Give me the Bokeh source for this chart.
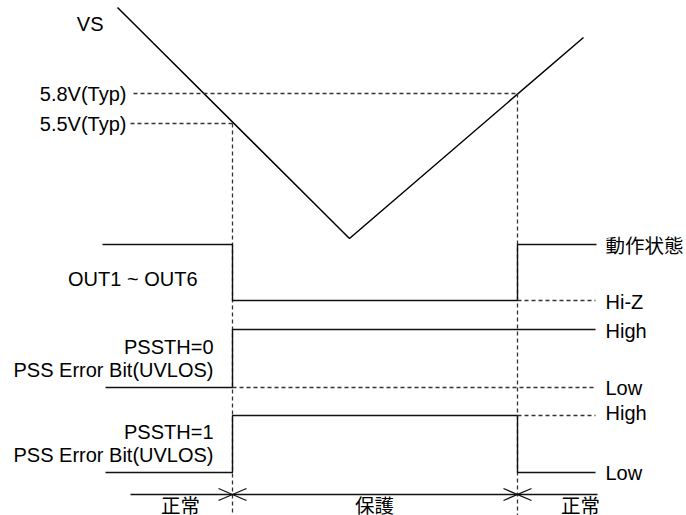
from bokeh.plotting import figure
from bokeh.models import Range1d
from bokeh.core.properties import value
from bokeh.embed import file_html
from bokeh.resources import INLINE

# ---------------- data (diagram coordinates: time -> x, level -> y) -------------
t_uvlo = 232          # VS falls below 5.5V
t_release = 517       # VS rises above 5.8V

vs_time = [117, 349, 583]
vs_level = [7, 238, 37]

th_labels = ["5.8V(Typ)", "5.5V(Typ)"]
th_level = [93, 123]
th_start = [133, 130]
th_end = [t_release, t_uvlo]

out_time = [102, t_uvlo, t_uvlo, t_release, t_release, 596]
out_level = [244, 244, 300, 300, 244, 244]
hiz_time = [t_release, 595]
hiz_level = [300, 300]

pss0_time = [105, t_uvlo, t_uvlo, 595]
pss0_level = [387, 387, 329, 329]
pss0_low_time = [t_uvlo, 595]
pss0_low_level = [387, 387]

pss1_time = [105, t_uvlo, t_uvlo, t_release, t_release, 595]
pss1_level = [472, 472, 415, 415, 472, 472]
pss1_high_time = [t_release, 595]
pss1_high_level = [415, 415]

timeline_start, timeline_end, timeline_y = 130, 597, 494

left_labels = ["VS", "5.8V(Typ)", "5.5V(Typ)", "OUT1 ~ OUT6",
               "PSSTH=0", "PSS Error Bit(UVLOS)", "PSSTH=1", "PSS Error Bit(UVLOS)"]
left_x = [103, 126, 126, 197, 213, 213, 213, 213]
left_y = [23, 93, 123, 278, 346, 369, 431, 454]

right_labels = ["動作状態", "Hi-Z", "High", "Low", "High", "Low"]
right_y = [244, 301, 330, 387, 412, 472]
right_x = 605

phase_labels = ["正常", "保護", "正常"]
phase_x = [180, 374, 580]
phase_y = 504

# ---------------- figure ---------------------------------------------------------
W, H = 686, 515
p = figure(width=W, height=H, output_backend="svg", toolbar_location=None,
           x_range=Range1d(0, W), y_range=Range1d(H, 0),
           min_border=0, x_axis_location=None, y_axis_location=None)
p.outline_line_color = None
p.xgrid.visible = False
p.ygrid.visible = False
p.background_fill_color = "white"

solid = dict(line_color="#111111", line_width=1.4)
dashed = dict(line_color="#333333", line_width=1.3, line_dash="4 3")

# VS
p.line(vs_time, vs_level, line_color="black", line_width=1.5)
# thresholds
p.multi_line([[s, e] for s, e in zip(th_start, th_end)],
             [[y, y] for y in th_level], **dashed)
# event verticals
p.multi_line([[t_uvlo, t_uvlo], [t_release, t_release]],
             [[th_level[1], H], [th_level[0], H]], **dashed)

# OUT1~OUT6
p.line(out_time, out_level, **solid)
p.line(hiz_time, hiz_level, **dashed)
# PSSTH=0
p.line(pss0_time, pss0_level, **solid)
p.line(pss0_low_time, pss0_low_level, **dashed)
# PSSTH=1
p.line(pss1_time, pss1_level, **solid)
p.line(pss1_high_time, pss1_high_level, **dashed)

# timeline with X marks
p.line([timeline_start, timeline_end], [timeline_y, timeline_y], **solid)
xs, ys = [], []
for t in (t_uvlo, t_release):
    xs += [[t - 14, t + 14], [t - 14, t + 14]]
    ys += [[timeline_y - 6, timeline_y + 6], [timeline_y + 6, timeline_y - 6]]
p.multi_line(xs, ys, line_color="#111111", line_width=1.3)

font = value("Liberation Sans")
cjk = value("Noto Sans CJK JP")

p.text(x=left_x, y=left_y, text=left_labels, text_font=font,
       text_font_size="20px", text_align="right", text_baseline="middle",
       text_color="black")

p.text(x=[right_x], y=right_y[:1], text=right_labels[:1], text_font=cjk,
       text_font_size="19.5px", text_align="left", text_baseline="middle",
       text_color="black")
p.text(x=[right_x] * (len(right_labels) - 1), y=right_y[1:], text=right_labels[1:],
       text_font=font, text_font_size="20px", text_align="left",
       text_baseline="middle", text_color="black")

p.text(x=phase_x, y=[phase_y] * 3, text=phase_labels, text_font=cjk,
       text_font_size="19.5px", text_align="center", text_baseline="middle",
       text_color="black")

open("out.html", "w").write(file_html(p, INLINE))
